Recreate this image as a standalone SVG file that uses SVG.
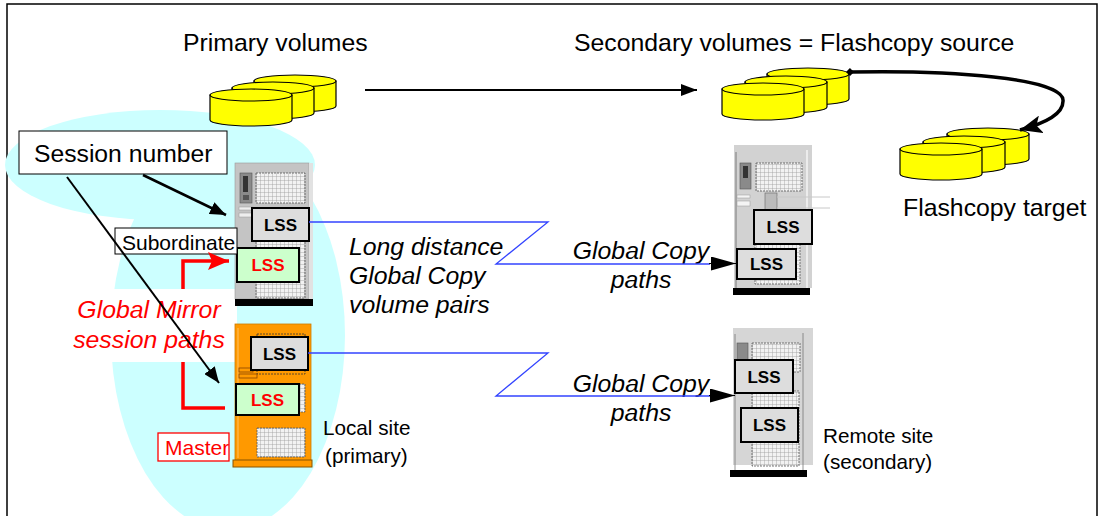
<svg xmlns="http://www.w3.org/2000/svg" xmlns:xlink="http://www.w3.org/1999/xlink" width="1101" height="516" viewBox="0 0 1101 516">
  <style>
    text { font-family: "Liberation Sans", Arial, sans-serif; fill: #000; }
    .title { font-size: 24.8px; }
    .ital { font-size: 24.8px; font-style: italic; }
    .red { fill: #FF0000; }
    .site { font-size: 20.7px; }
    .lss { font-size: 17px; font-weight: bold; text-anchor: middle; }
    .lssGray { fill: #DDDDDD; stroke: #000; stroke-width: 2; }
    .lssGreen { fill: #CCFFCC; stroke: #000; stroke-width: 2; }
    .grill { fill: url(#grill); stroke: #555; stroke-width: 0.8; stroke-dasharray: 2 1; }
    .cylBody { fill: #FFFF00; stroke: #000; stroke-width: 1.2; }
    .blue { fill: none; stroke: #3344FF; stroke-width: 1.3; }
    .blk { fill: none; stroke: #000; }
    .redline { fill: none; stroke: #FF0000; stroke-width: 3.5; }
  </style>
  <defs>
    <pattern id="grill" width="4" height="4" patternUnits="userSpaceOnUse">
      <rect width="4" height="4" fill="#F2F2F2"/>
      <path d="M0,0 V4 M0,0 H4" stroke="#9A9A9A" stroke-width="0.8"/>
    </pattern>
    <!-- stacked-disk cylinder, 82 wide -->
    <g id="cyl">
      <path class="cylBody" d="M0,6 V31 A41,6 0 0 0 82,31 V6 Z"/>
      <ellipse class="cylBody" cx="41" cy="6" rx="41" ry="6"/>
    </g>
    <marker id="arrSmall" markerUnits="userSpaceOnUse" markerWidth="16" markerHeight="12" refX="16" refY="6" orient="auto">
      <path d="M0,0 L16,6 L0,12 Z" fill="#000"/>
    </marker>
    <marker id="arrLong" markerUnits="userSpaceOnUse" markerWidth="25" markerHeight="14" refX="25" refY="7" orient="auto">
      <path d="M0,0 L25,7 L0,14 Z" fill="#000"/>
    </marker>
    <marker id="arrCurve" markerUnits="userSpaceOnUse" markerWidth="24" markerHeight="18" refX="22" refY="9" orient="auto">
      <path d="M0,0 L22,9 L0,18 L5,9 Z" fill="#000"/>
    </marker>
    <marker id="arrSess" markerUnits="userSpaceOnUse" markerWidth="16" markerHeight="13" refX="16" refY="6.5" orient="auto">
      <path d="M0,0 L16,6.5 L0,13 Z" fill="#000"/>
    </marker>
    <marker id="arrRed" markerUnits="userSpaceOnUse" markerWidth="22" markerHeight="18" refX="21" refY="9" orient="auto">
      <path d="M0,0 L21,9 L0,18 L4,9 Z" fill="#FF0000"/>
    </marker>
    <marker id="diamond" markerUnits="userSpaceOnUse" markerWidth="8" markerHeight="8" refX="4" refY="4" orient="auto">
      <path d="M0,4 L4,0 L8,4 L4,8 Z" fill="#000"/>
    </marker>
  </defs>

  <!-- frame -->
  <path d="M7,516 V4 H1097 V516" fill="none" stroke="#000" stroke-width="1.5"/>

  <!-- local site area -->
  <g id="local-area" fill="#CCFFFF">
    <ellipse cx="160" cy="165" rx="155" ry="55"/>
    <ellipse cx="228" cy="335" rx="117" ry="195"/>
  </g>
  <rect x="70" y="289" width="167" height="73" fill="#FFFFFF"/>

  <!-- volume groups -->
  <g id="primary-volumes">
    <use xlink:href="#cyl" x="254" y="75"/>
    <use xlink:href="#cyl" x="232" y="82"/>
    <use xlink:href="#cyl" x="210" y="89"/>
    <text class="title" x="183" y="51">Primary volumes</text>
  </g>
  <g id="secondary-volumes">
    <use xlink:href="#cyl" x="767" y="68"/>
    <use xlink:href="#cyl" x="745" y="76"/>
    <use xlink:href="#cyl" x="722" y="83"/>
    <text class="title" x="574" y="51">Secondary volumes = Flashcopy source</text>
  </g>
  <g id="flashcopy-target">
    <use xlink:href="#cyl" x="947" y="128"/>
    <use xlink:href="#cyl" x="923" y="136"/>
    <use xlink:href="#cyl" x="900" y="143"/>
    <text class="title" x="903" y="216">Flashcopy target</text>
  </g>

  <!-- local subordinate storage unit -->
  <g id="local-subordinate">
    <rect x="235" y="163" width="74" height="136" fill="#C4C4C4" stroke="#9A9A9A" stroke-width="0.6"/>
    <rect x="309" y="163" width="4" height="136" fill="#E2E2E2"/>
    <rect x="240" y="173" width="12" height="30" fill="#8A8A8A" stroke="#555" stroke-width="0.6"/>
    <rect x="243" y="176" width="5" height="16" fill="#333"/>
    <rect x="243" y="195" width="6" height="5" fill="#555"/>
    <rect class="grill" x="256" y="173" width="49" height="30"/>
    <rect x="239" y="207" width="14" height="3" fill="#EEE" stroke="#999" stroke-width="0.5"/>
    <rect x="239" y="213" width="14" height="4" fill="#EEE" stroke="#999" stroke-width="0.5"/>
    <rect class="grill" x="256" y="240" width="49" height="58"/>
    <rect class="lssGray" x="252" y="208" width="57" height="33"/>
    <text class="lss" x="280.5" y="231">LSS</text>
    <rect class="lssGreen" x="237" y="248" width="62" height="34"/>
    <text class="lss red" x="268" y="271">LSS</text>
    <rect x="235" y="299" width="78" height="7" fill="#000"/>
  </g>
  <g id="label-subordinate">
    <rect x="115" y="228" width="122" height="26" fill="#FFF" stroke="#000" stroke-width="1"/>
    <text x="122" y="250" style="font-size:21px">Subordinate</text>
  </g>

  <!-- local master storage unit -->
  <g id="local-master">
    <rect x="235" y="324" width="76" height="137" fill="#FF9900" stroke="#CC7A00" stroke-width="0.8"/>
    <line x1="238" y1="328" x2="238" y2="458" stroke="#FFC266" stroke-width="1"/>
    <rect x="257" y="334" width="48" height="40" fill="#FF9900" stroke="#333" stroke-width="0.8" stroke-dasharray="2 1"/>
    <rect x="239" y="368" width="14" height="4" fill="none" stroke="#884400" stroke-width="0.8"/>
    <rect x="239" y="374" width="18" height="4" fill="none" stroke="#884400" stroke-width="0.8"/>
    <rect class="grill" x="299" y="384" width="6" height="28"/>
    <rect class="grill" x="257" y="428" width="48" height="29"/>
    <rect class="lssGray" x="251" y="337" width="57" height="33"/>
    <text class="lss" x="279.5" y="360">LSS</text>
    <rect class="lssGreen" x="236" y="384" width="63" height="31"/>
    <text class="lss red" x="267.5" y="406">LSS</text>
    <rect x="233" y="460" width="79" height="7" fill="#FF9900" stroke="#885500" stroke-width="1"/>
  </g>
  <g id="label-master">
    <rect x="158" y="433" width="71" height="28" fill="#FFF" stroke="#FF0000" stroke-width="1.3"/>
    <text class="red" x="165" y="455" style="font-size:21px">Master</text>
  </g>
  <g id="label-local-site">
    <text class="site" x="323" y="435">Local site</text>
    <text class="site" x="325" y="463">(primary)</text>
  </g>

  <!-- remote storage units -->
  <g id="remote-upper">
    <rect x="734" y="145" width="78" height="143" fill="#D2D2D2"/>
    <line x1="736" y1="152" x2="736" y2="288" stroke="#666" stroke-width="0.8"/>
    <line x1="807" y1="150" x2="807" y2="288" stroke="#F4F4F4" stroke-width="1.5"/>
    <rect x="740" y="163" width="11" height="26" fill="#8A8A8A" stroke="#555" stroke-width="0.6"/>
    <rect x="743" y="166" width="5" height="12" fill="#333"/>
    <rect class="grill" x="756" y="163" width="46" height="28"/>
    <rect x="737" y="195" width="13" height="3" fill="#F4F4F4" stroke="#999" stroke-width="0.5"/>
    <rect x="737" y="201" width="13" height="5" fill="#F4F4F4" stroke="#999" stroke-width="0.5"/>
    <rect x="765" y="193" width="12" height="17" fill="#BBB" stroke="#666" stroke-width="0.6"/>
    <path d="M777,197 H830 M777,208 H830" stroke="#C8C8C8" stroke-width="1"/>
    <rect class="grill" x="755" y="244" width="45" height="40"/>
    <rect class="lssGray" x="754" y="210" width="58" height="34"/>
    <text class="lss" x="783" y="233">LSS</text>
    <rect class="lssGray" x="737" y="249" width="59" height="30"/>
    <text class="lss" x="766.5" y="270">LSS</text>
    <rect x="733" y="288" width="77" height="7" fill="#000"/>
  </g>
  <g id="remote-lower">
    <rect x="733" y="328" width="80" height="137" fill="#D6D6D6"/>
    <line x1="735" y1="334" x2="735" y2="470" stroke="#777" stroke-width="0.8"/>
    <line x1="803" y1="333" x2="803" y2="472" stroke="#777" stroke-width="0.8"/>
    <rect x="737" y="343" width="11" height="17" fill="#8A8A8A" stroke="#555" stroke-width="0.6"/>
    <rect class="grill" x="752" y="343" width="48" height="29"/>
    <rect class="grill" x="752" y="391" width="47" height="75"/>
    <rect class="lssGray" x="735" y="360" width="58" height="33"/>
    <text class="lss" x="764" y="383">LSS</text>
    <rect class="lssGray" x="741" y="408" width="57" height="34"/>
    <text class="lss" x="769.5" y="431">LSS</text>
    <rect x="730" y="470" width="77" height="7" fill="#000"/>
  </g>
  <g id="label-remote-site">
    <text class="site" x="823" y="443">Remote site</text>
    <text class="site" x="823" y="469">(secondary)</text>
  </g>

  <!-- annotations -->
  <g id="label-session">
    <rect x="19" y="131" width="208" height="43" fill="#FFF" stroke="#000" stroke-width="1"/>
    <text x="34" y="162" style="font-size:24.7px">Session number</text>
  </g>
  <g id="label-gm-paths">
    <text class="ital red" x="149" y="318" text-anchor="middle">Global Mirror</text>
    <text class="ital red" x="149" y="348" text-anchor="middle">session paths</text>
  </g>
  <g id="label-long-distance">
    <text class="ital" x="349" y="255">Long distance</text>
    <text class="ital" x="349" y="284">Global Copy</text>
    <text class="ital" x="349" y="313">volume pairs</text>
  </g>
  <g id="label-gc-upper">
    <text class="ital" x="641" y="259" text-anchor="middle">Global Copy</text>
    <text class="ital" x="641" y="288" text-anchor="middle">paths</text>
  </g>
  <g id="label-gc-lower">
    <text class="ital" x="641" y="392" text-anchor="middle">Global Copy</text>
    <text class="ital" x="641" y="421" text-anchor="middle">paths</text>
  </g>

  <!-- connectors -->
  <g id="connectors">
    <line class="blk" x1="365" y1="90" x2="697" y2="90" stroke-width="2" marker-end="url(#arrSmall)"/>
    <path class="blk" d="M850,72 C950,70 1062,78 1063,100 C1064,114 1046,123 1020,130" stroke-width="3.5" marker-start="url(#diamond)" marker-end="url(#arrCurve)"/>
    <polyline class="blue" points="309,222 548,222 496,264 710,264"/>
    <line class="blk" x1="709" y1="263.5" x2="736" y2="263.5" stroke-width="1" marker-end="url(#arrLong)"/>
    <polyline class="blue" points="308,353 548,353 496,396 710,396"/>
    <line class="blk" x1="709" y1="395.5" x2="735" y2="395.5" stroke-width="1" marker-end="url(#arrLong)"/>
    <line class="blk" x1="143" y1="175" x2="226" y2="215" stroke-width="2.5" marker-end="url(#arrSess)"/>
    <line class="blk" x1="67" y1="177" x2="219" y2="383" stroke-width="2" marker-end="url(#arrSess)"/>
    <polyline class="redline" points="183,289 183,261 229,261" marker-end="url(#arrRed)"/>
    <polyline class="redline" points="183,362 183,408 225,408"/>
  </g>
</svg>
